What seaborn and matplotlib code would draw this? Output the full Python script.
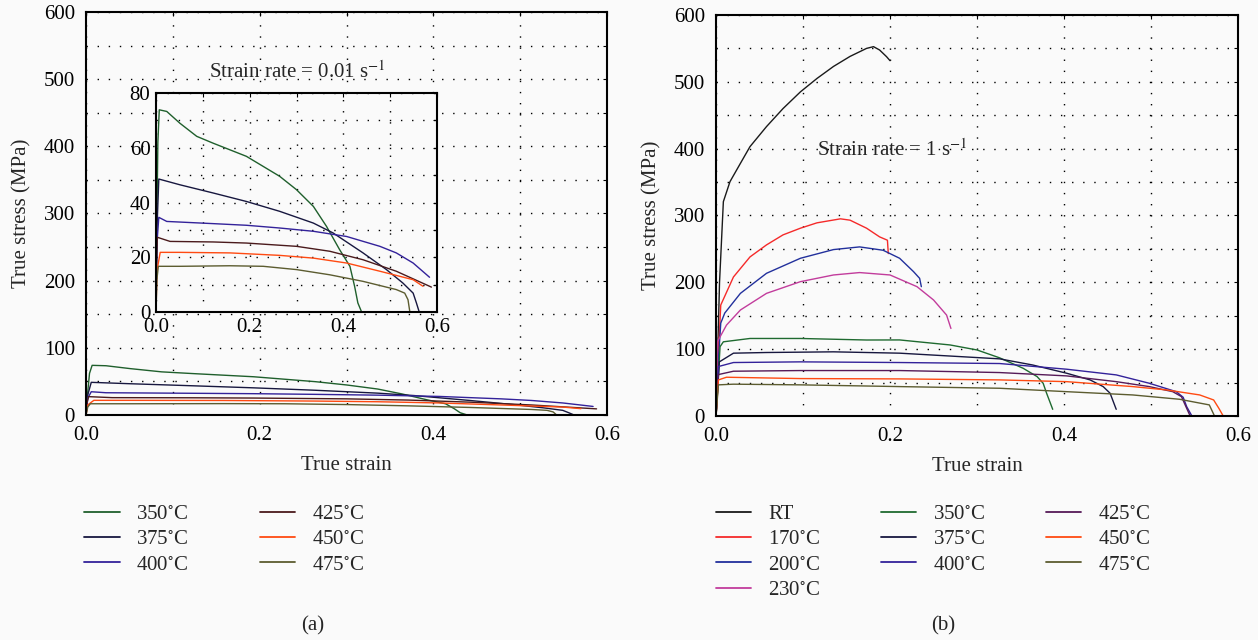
import matplotlib
matplotlib.use("Agg")
import matplotlib.pyplot as plt
from matplotlib.lines import Line2D
from matplotlib.ticker import MultipleLocator
import pandas as pd
import seaborn as sns

# ---- data: strain rate 0.01 s^-1 (panel a) ----
a_labels = ["350°C", "375°C", "400°C", "425°C", "450°C", "475°C"]
a_colors = ["#1f5f2c", "#17173f", "#33229a", "#4a1a1c", "#ff4a12", "#5c5c30"]

a350_x = [0, 0.002, 0.004, 0.007, 0.023, 0.051, 0.087, 0.122, 0.193, 0.229, 0.264, 0.300, 0.336, 0.364, 0.392, 0.414, 0.424, 0.431, 0.439]
a350_y = [0, 35, 62, 73.9, 73.3, 69, 64.2, 61.7, 56.9, 53.2, 49.6, 44.7, 38.6, 31.3, 22.8, 16.7, 9.4, 3.3, 0]
a375_x = [0, 0.002, 0.006, 0.051, 0.122, 0.193, 0.264, 0.336, 0.378, 0.442, 0.492, 0.527, 0.549, 0.556, 0.562]
a375_y = [0, 30, 48.6, 46.5, 43.5, 40.4, 36.8, 32.5, 28.9, 21.6, 15.5, 10.6, 6.9, 3.3, 0]
a400_x = [0, 0.002, 0.006, 0.023, 0.122, 0.193, 0.264, 0.336, 0.407, 0.478, 0.513, 0.549, 0.584]
a400_y = [0, 25, 34.6, 33.1, 32.3, 31.7, 30.7, 29.5, 27.6, 24.0, 21.6, 17.9, 12.7]
a425_x = [0, 0.001, 0.003, 0.030, 0.122, 0.193, 0.300, 0.371, 0.442, 0.513, 0.588]
a425_y = [0, 18, 27.3, 25.8, 25.6, 25.2, 24.0, 22.2, 19.1, 14.9, 9.1]
a450_x = [0, 0.002, 0.009, 0.051, 0.158, 0.264, 0.336, 0.407, 0.478, 0.549, 0.570]
a450_y = [0, 15, 21.8, 21.8, 21.6, 20.7, 19.7, 17.9, 14.9, 11.8, 9.4]
a475_x = [0, 0.002, 0.005, 0.051, 0.158, 0.229, 0.300, 0.371, 0.442, 0.513, 0.531, 0.538, 0.542]
a475_y = [0, 12, 16.7, 16.7, 16.9, 16.7, 15.5, 13.6, 11.2, 8.2, 6.9, 4.5, 0]

# ---- data: strain rate 1 s^-1 (panel b) ----
b_labels = ["RT", "170°C", "200°C", "230°C", "350°C", "375°C",
            "400°C", "425°C", "450°C", "475°C"]
b_colors = ["#1a1a1a", "#f52a2a", "#22309c", "#c23c9c", "#1f6a30", "#17173f",
            "#33229a", "#561a58", "#ff4a12", "#5c5c30"]

bRT_x = [0, 0.004, 0.0084, 0.016, 0.028, 0.039, 0.058, 0.077, 0.097, 0.116, 0.135, 0.154, 0.173, 0.181, 0.188, 0.196, 0.200]
bRT_y = [0, 200, 320.7, 350.6, 378, 403, 433, 460, 485, 505, 523, 538, 550, 552.6, 547.6, 537.6, 531.6]
b170_x = [0, 0.003, 0.0054, 0.020, 0.039, 0.058, 0.077, 0.097, 0.116, 0.143, 0.154, 0.173, 0.188, 0.197, 0.198]
b170_y = [0, 100, 166, 208, 238, 256, 271, 281, 289, 295, 293, 281, 268, 263, 243]
b200_x = [0, 0.003, 0.0054, 0.010, 0.028, 0.058, 0.097, 0.135, 0.165, 0.192, 0.211, 0.227, 0.234, 0.236]
b200_y = [0, 90, 139, 154, 183.5, 213.5, 236, 249, 253, 248, 236, 216, 206, 193.5]
b230_x = [0, 0.0015, 0.012, 0.028, 0.058, 0.097, 0.135, 0.165, 0.200, 0.231, 0.250, 0.265, 0.270]
b230_y = [0, 111, 136, 158.6, 183.5, 201, 211, 214.6, 211, 193.5, 173.6, 151, 131]
b350_x = [0, 0.0046, 0.0084, 0.039, 0.097, 0.173, 0.211, 0.269, 0.300, 0.326, 0.353, 0.369, 0.376, 0.380, 0.387]
b350_y = [0, 103.7, 111, 116, 116, 113.7, 113.8, 106.3, 98.8, 87, 71.4, 59, 49, 34, 10]
b375_x = [0, 0.0038, 0.020, 0.058, 0.135, 0.211, 0.326, 0.364, 0.403, 0.430, 0.445, 0.453, 0.460]
b375_y = [0, 81, 94, 95, 96, 94, 85.5, 76.3, 64, 54, 44, 34, 10]
b400_x = [0, 0.0027, 0.020, 0.097, 0.211, 0.326, 0.403, 0.460, 0.498, 0.529, 0.537, 0.541, 0.547, 0.560]
b400_y = [0, 74, 80, 81, 80, 78.5, 70, 61.5, 49, 36.4, 28, 14, 0, 0]
b425_x = [0, 0.0027, 0.020, 0.097, 0.211, 0.326, 0.403, 0.460, 0.498, 0.525, 0.535, 0.541, 0.545, 0.580]
b425_y = [0, 62, 67, 68, 68, 65, 60, 51.4, 44, 36.4, 29, 11.5, 0, 0]
b450_x = [0, 0.0027, 0.012, 0.097, 0.211, 0.326, 0.403, 0.479, 0.518, 0.556, 0.572, 0.578, 0.583, 0.600]
b450_y = [0, 54, 58, 56, 55.5, 54, 51.4, 44, 39, 31.5, 24, 11.5, 0, 0]
b475_x = [0, 0.0027, 0.020, 0.097, 0.211, 0.326, 0.403, 0.479, 0.533, 0.567, 0.573]
b475_y = [0, 46.6, 47.6, 46.6, 44, 41.5, 36.4, 31.5, 25, 16.6, 0]

BG = "#fafafa"
FS = 15
sns.set_theme(style="white")
plt.rcParams["font.family"] = ["Liberation Serif", "DejaVu Serif"]
plt.rcParams["mathtext.fontset"] = "stix"
plt.rcParams["axes.unicode_minus"] = False


def long_form(labels, xs, ys):
    frames = [pd.DataFrame({"strain": x, "stress": y, "temp": lab})
              for lab, x, y in zip(labels, xs, ys)]
    return pd.concat(frames, ignore_index=True)


def style_axes(ax, ymax, ymajor, yminor, fs=FS):
    ax.set_facecolor(BG)
    ax.set_xlim(0, 0.6)
    ax.set_ylim(0, ymax)
    ax.xaxis.set_major_locator(MultipleLocator(0.2))
    ax.xaxis.set_minor_locator(MultipleLocator(0.1))
    ax.yaxis.set_major_locator(MultipleLocator(ymajor))
    ax.yaxis.set_minor_locator(MultipleLocator(yminor))
    ax.xaxis.set_major_formatter(lambda v, p: f"{v:.1f}")
    ax.grid(True, which="both", color="black", linestyle=(0, (1, 7)), linewidth=1)
    ax.tick_params(which="both", direction="in", length=3, width=0.8,
                   top=True, right=True, labelsize=fs, colors="black", pad=8)
    for s in ax.spines.values():
        s.set_color("black")
        s.set_linewidth(1.5)
    ax.set_xlabel("")
    ax.set_ylabel("")


def draw(ax, df, labels, colors):
    sns.lineplot(data=df, x="strain", y="stress", hue="temp", hue_order=labels,
                 palette=dict(zip(labels, colors)), sort=False, estimator=None,
                 linewidth=1.0, legend=False, ax=ax)


fig = plt.figure(figsize=(12.58, 6.40), dpi=100, facecolor=BG)

df_a = long_form(a_labels,
                 [a350_x, a375_x, a400_x, a425_x, a450_x, a475_x],
                 [a350_y, a375_y, a400_y, a425_y, a450_y, a475_y])
df_b = long_form(b_labels,
                 [bRT_x, b170_x, b200_x, b230_x, b350_x, b375_x, b400_x, b425_x, b450_x, b475_x],
                 [bRT_y, b170_y, b200_y, b230_y, b350_y, b375_y, b400_y, b425_y, b450_y, b475_y])

# panel (a)
ax_a = fig.add_axes([0.0684, 0.3516, 0.4141, 0.6297])
draw(ax_a, df_a, a_labels, a_colors)
style_axes(ax_a, 600, 100, 50)
ax_a.set_xlabel("True strain", fontsize=FS, labelpad=8)
ax_a.set_ylabel("True stress (MPa)", fontsize=FS, labelpad=9)

# inset
ax_in = fig.add_axes([0.124, 0.5125, 0.2234, 0.342])
draw(ax_in, df_a, a_labels, a_colors)
style_axes(ax_in, 80, 20, 10)
ax_in.tick_params(pad=4)
fig.text(0.236, 0.8875, "Strain rate = 0.01 s$^{-1}$", fontsize=FS,
         ha="center", va="center")

# panel (b)
ax_b = fig.add_axes([0.5692, 0.35, 0.4149, 0.6266])
draw(ax_b, df_b, b_labels, b_colors)
style_axes(ax_b, 600, 100, 50)
ax_b.set_xlabel("True strain", fontsize=FS, labelpad=8)
ax_b.set_ylabel("True stress (MPa)", fontsize=FS, labelpad=9)
ax_b.text(0.202, 398, "Strain rate = 1 s$^{-1}$", fontsize=FS, ha="center", va="center")


def deg(lab):
    return lab.replace("°C", "$^{\\circ}$C")


# legends below the panels
blank = Line2D([], [], color="none")
h_a = [Line2D([], [], color=c, lw=1.3) for c in a_colors]
fig.legend(h_a, [deg(l) for l in a_labels], ncol=2, frameon=False,
           loc="upper left", bbox_to_anchor=(0.067, 0.212), fontsize=FS,
           handlelength=1.7, handletextpad=0.8, columnspacing=3.4,
           labelspacing=0.28, borderpad=0, borderaxespad=0)

h_b = [Line2D([], [], color=c, lw=1.3) for c in b_colors]
h_b = h_b[:7] + [blank] + h_b[7:] + [blank]
l_b = [deg(l) for l in b_labels]
l_b = l_b[:7] + [""] + l_b[7:] + [""]
fig.legend(h_b, l_b, ncol=3, frameon=False,
           loc="upper left", bbox_to_anchor=(0.569, 0.212), fontsize=FS,
           handlelength=1.7, handletextpad=0.8, columnspacing=2.9,
           labelspacing=0.28, borderpad=0, borderaxespad=0)

fig.text(313 / 1258, 1 - 626 / 640, "(a)", fontsize=FS, ha="center", va="center")
fig.text(943 / 1258, 1 - 626 / 640, "(b)", fontsize=FS, ha="center", va="center")

fig.savefig("out.png", dpi=100, facecolor=BG)
